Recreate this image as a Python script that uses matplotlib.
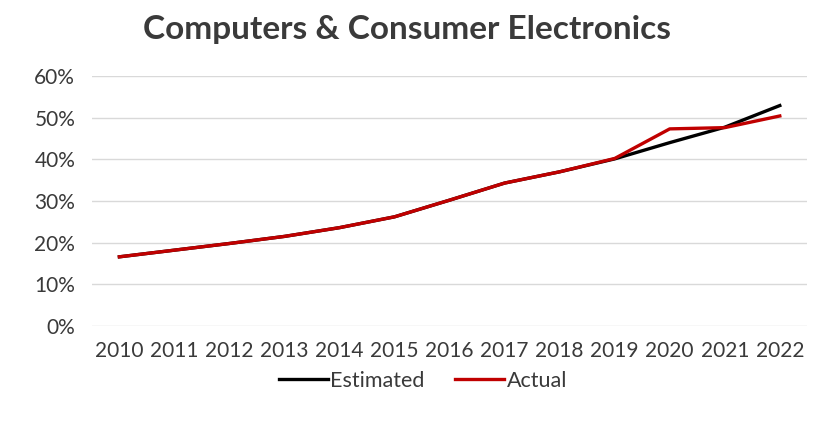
import matplotlib.pyplot as plt
from matplotlib.ticker import PercentFormatter

anos = ["2010", "2011", "2012", "2013", "2014", "2015", "2016",
        "2017", "2018", "2019", "2020", "2021", "2022"]
estimado = [16.6, 18.2, 19.8, 21.5, 23.6, 26.2, 30.2, 34.3, 37.0, 40.1, 44.0, 47.7, 52.9]
real = [16.6, 18.2, 19.8, 21.5, 23.6, 26.2, 30.2, 34.3, 37.0, 40.2, 47.3, 47.6, 50.4]

plt.rcParams["font.family"] = ["Lato", "DejaVu Sans"]

fig = plt.figure(figsize=(8.13, 4.22), dpi=100)
ax = fig.add_axes([0.113, 0.2275, 0.88, 0.5925])

x = list(range(len(anos)))
ax.plot(x, estimado, color="black", linewidth=2.4, label="Estimated")
ax.plot(x, real, color="#c00000", linewidth=2.4, label="Actual")

ax.set_xlim(-0.5, len(anos) - 0.5)
ax.set_ylim(0, 60)
ax.set_yticks(range(0, 61, 10))
ax.yaxis.set_major_formatter(PercentFormatter(decimals=0))
ax.set_xticks(x)
ax.set_xticklabels(anos)
ax.tick_params(length=0, labelsize=15, colors="#3a3a3a", pad=11)
ax.tick_params(axis="y", pad=12)
ax.grid(axis="y", color="#d9d9d9", linewidth=1)
ax.set_axisbelow(True)
for s in ax.spines.values():
    s.set_visible(False)

fig.suptitle("Computers & Consumer Electronics", fontsize=24, fontweight="bold",
             color="#3a3a3a", y=0.965)
fig.legend(loc="center", ncol=2, frameon=False, fontsize=15.5,
           bbox_to_anchor=(0.52, 0.098), handlelength=2.3, handletextpad=0.1,
           columnspacing=1.4, labelcolor="#3a3a3a")

fig.savefig("out.png", dpi=100)
